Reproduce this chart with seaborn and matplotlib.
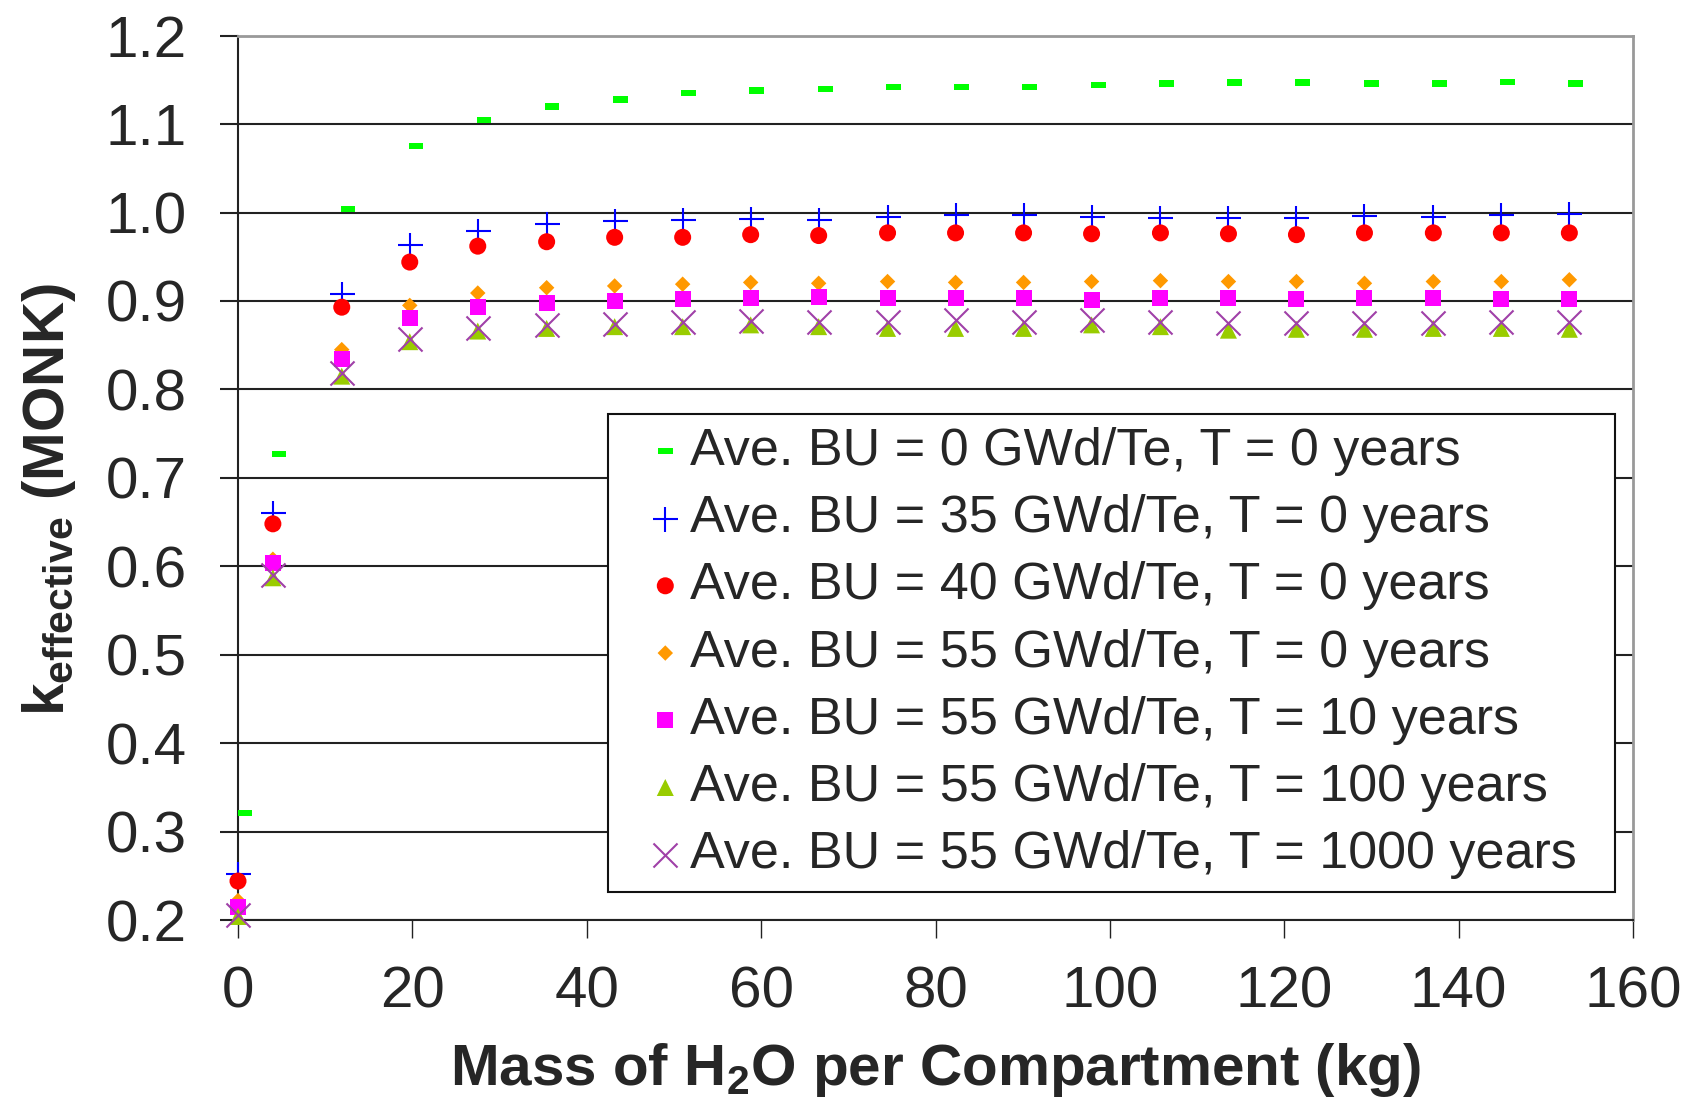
import numpy as np
import pandas as pd
import seaborn as sns
import matplotlib.pyplot as plt

# water mass per compartment (kg); the 0 GWd/Te series sits slightly to the right
mass = [0, 4.0, 11.9, 19.7, 27.5, 35.4, 43.2, 51.0, 58.8, 66.6, 74.5,
        82.3, 90.1, 97.9, 105.8, 113.6, 121.4, 129.2, 137.1, 144.9, 152.7]
mass_fresh = [0.8, 4.7, 12.6, 20.4, 28.2, 36.0, 43.9, 51.7, 59.5, 67.4, 75.2,
              83.0, 90.8, 98.7, 106.5, 114.3, 122.1, 130.0, 137.8, 145.6, 153.4]

k_bu0_t0 = [0.321, 0.727, 1.004, 1.075, 1.105, 1.120, 1.128, 1.135, 1.138, 1.140, 1.142,
            1.142, 1.142, 1.144, 1.146, 1.147, 1.147, 1.146, 1.146, 1.148, 1.146]
k_bu35_t0 = [0.252, 0.660, 0.908, 0.963, 0.979, 0.987, 0.990, 0.992, 0.993, 0.992, 0.995,
             0.997, 0.997, 0.995, 0.994, 0.994, 0.994, 0.996, 0.995, 0.997, 0.998]
k_bu40_t0 = [0.244, 0.648, 0.893, 0.944, 0.962, 0.967, 0.972, 0.972, 0.975, 0.974, 0.977,
             0.977, 0.977, 0.976, 0.977, 0.976, 0.975, 0.977, 0.977, 0.977, 0.977]
k_bu55_t0 = [0.222, 0.608, 0.845, 0.895, 0.909, 0.915, 0.917, 0.919, 0.921, 0.920, 0.922,
             0.921, 0.921, 0.922, 0.923, 0.922, 0.922, 0.920, 0.922, 0.922, 0.924]
k_bu55_t10 = [0.215, 0.604, 0.834, 0.881, 0.893, 0.898, 0.900, 0.902, 0.903, 0.905, 0.903,
              0.903, 0.903, 0.901, 0.903, 0.903, 0.902, 0.903, 0.903, 0.902, 0.902]
k_bu55_t100 = [0.204, 0.587, 0.815, 0.854, 0.866, 0.869, 0.871, 0.871, 0.873, 0.871, 0.869,
               0.869, 0.869, 0.873, 0.871, 0.867, 0.868, 0.868, 0.869, 0.869, 0.868]
k_bu55_t1000 = [0.206, 0.590, 0.819, 0.857, 0.869, 0.873, 0.874, 0.876, 0.877, 0.876, 0.876,
                0.878, 0.876, 0.878, 0.876, 0.875, 0.875, 0.875, 0.875, 0.876, 0.876]

labels = ["Ave. BU = 0 GWd/Te, T = 0 years",
          "Ave. BU = 35 GWd/Te, T = 0 years",
          "Ave. BU = 40 GWd/Te, T = 0 years",
          "Ave. BU = 55 GWd/Te, T = 0 years",
          "Ave. BU = 55 GWd/Te, T = 10 years",
          "Ave. BU = 55 GWd/Te, T = 100 years",
          "Ave. BU = 55 GWd/Te, T = 1000 years"]

sns.set_style("white")
plt.rcParams['font.family'] = ['Liberation Sans', 'DejaVu Sans']
plt.rcParams['mathtext.fontset'] = 'custom'
plt.rcParams['mathtext.rm'] = 'Liberation Sans'
plt.rcParams['mathtext.bf'] = 'Liberation Sans:bold'

fig = plt.figure(figsize=(16.88, 10.98), dpi=100)
ax = fig.add_axes([238/1688, 1 - 920/1098, (1633 - 238)/1688, (920 - 35.7)/1098])

dash = [(-1, -0.43), (1, -0.43), (1, 0.43), (-1, 0.43), (-1, -0.43)]
series = [
    (mass_fresh, k_bu0_t0, dash, 110, '#00FF00', 0),
    (mass, k_bu35_t0, '+', 324, '#0000FF', 1.5),
    (mass, k_bu40_t0, 'o', 150, '#FF0000', 0),
    (mass, k_bu55_t0, 'D', 62, '#FF9900', 0),
    (mass, k_bu55_t10, 's', 132, '#FF00FF', 0),
    (mass, k_bu55_t100, '^', 150, '#99CC00', 0),
    (mass, k_bu55_t1000, 'x', 300, '#A040A8', 1.5),
]
for i, (xs, ys, m, s, c, lw) in enumerate(series):
    df = pd.DataFrame({'x': xs, 'k': ys})
    sns.scatterplot(data=df, x='x', y='k', marker=m, s=s, color=c,
                    linewidth=lw, edgecolor=c if lw else 'none',
                    label=labels[i], ax=ax, clip_on=False, zorder=3 + i)

ax.set_xlim(0, 160)
ax.set_ylim(0.2, 1.2)
ax.set_xticks(range(0, 161, 20))
yt = np.round(np.arange(0.2, 1.21, 0.1), 1)
ax.set_yticks(yt)
ax.set_yticklabels(['%.1f' % v for v in yt])

ax.grid(axis='y', color='#222222', linewidth=1.5)
ax.grid(axis='x', visible=False)
ax.set_axisbelow(True)

ax.tick_params(axis='y', direction='out', length=13, width=1.5, pad=24,
               labelsize=42, color='#222222', left=True)
ax.tick_params(axis='x', direction='out', length=13, width=1, pad=20,
               labelsize=42, color='#222222', bottom=True)

for side in ['left', 'bottom']:
    ax.spines[side].set_color('#222222')
    ax.spines[side].set_linewidth(1.5)
for side in ['top', 'right']:
    ax.spines[side].set_color('#999999')
    ax.spines[side].set_linewidth(2)

ax.set_xlabel(r'Mass of H$_\mathbf{2}$O per Compartment (kg)', fontsize=42,
              fontweight='bold', labelpad=15)
ax.set_ylabel(r'$\mathbf{k_{effective}}$ (MONK)', fontsize=42, fontweight='bold')
ax.yaxis.set_label_coords(-0.115, 0.475)

leg = ax.legend(loc='upper left', bbox_to_anchor=(608/1688, 1 - 888/1098, (1615 - 608)/1688, (888 - 414)/1098),
                bbox_transform=fig.transFigure, mode='expand', fontsize=37.5,
                frameon=True, fancybox=False, edgecolor='#111111', framealpha=1,
                borderpad=0.25, labelspacing=0.35, handlelength=1.7, handletextpad=-0.37,
                borderaxespad=0)
leg.get_frame().set_linewidth(1.5)

fig.savefig('out.png', dpi=100)
